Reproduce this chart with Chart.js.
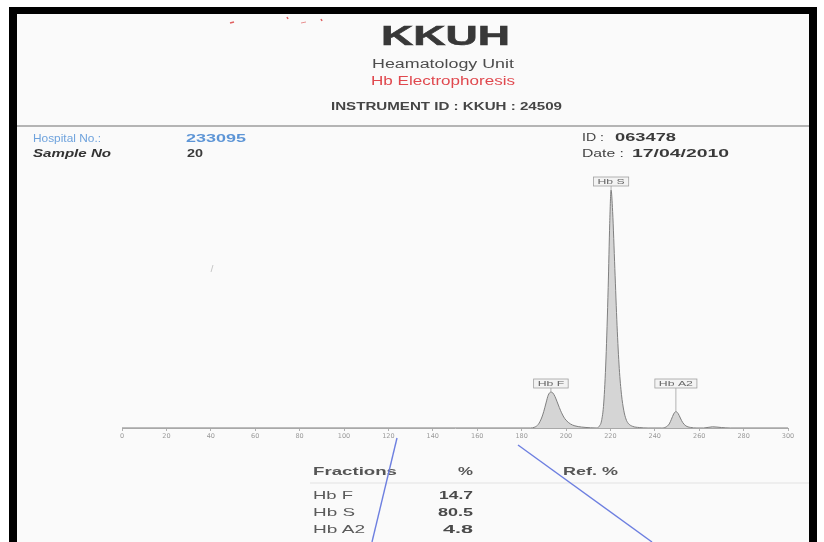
<!DOCTYPE html>
<html>
<head>
<meta charset="utf-8">
<script src="https://cdn.jsdelivr.net/npm/chart.js@4/dist/chart.umd.min.js"></script>
<style>
  html, body { margin: 0; padding: 0; background: #fff; }
  #page { position: relative; width: 824px; height: 542px; overflow: hidden; background: #fff; }
  #paper { position: absolute; left: 17px; top: 14px; width: 792px; height: 528px; background: #fafafa; }
  #chart { position: absolute; left: 0; top: 0; }
  #marks { position: absolute; left: 0; top: 0; z-index: 3; }
  .t { position: absolute; white-space: nowrap; font-family: "Liberation Sans", Arial, sans-serif;
       color: #4a4a4a; transform-origin: 0 50%; z-index: 2; }
  .b { font-weight: bold; }
</style>
</head>
<body>
<div id="page">
  <div id="paper"></div>
  <canvas id="chart" width="824" height="542"></canvas>

  <div class="t b" style="left:381px;top:22px;font-size:28px;line-height:28px;color:#383838;-webkit-text-stroke:0.6px #383838" data-w="129">KKUH</div>
  <div class="t" style="left:372px;top:58px;font-size:12px;line-height:12px;color:#4d4d4d" data-w="142">Heamatology Unit</div>
  <div class="t" style="left:371px;top:75px;font-size:12px;line-height:12px;color:#e0484e" data-w="144">Hb Electrophoresis</div>
  <div class="t b" style="left:331px;top:100px;font-size:11.5px;line-height:12px;color:#454545" data-w="231">INSTRUMENT ID : KKUH : 24509</div>

  <div class="t" style="left:33px;top:133px;font-size:10.5px;line-height:11px;color:#6fa3dd" data-w="68">Hospital No.:</div>
  <div class="t b" style="left:186px;top:133px;font-size:10.5px;line-height:11px;color:#5d95d6" data-w="60">233095</div>
  <div class="t b" style="left:33px;top:147px;font-size:11.5px;line-height:12px;color:#333;font-style:italic" data-w="78">Sample No</div>
  <div class="t b" style="left:187px;top:148px;font-size:10.5px;line-height:11px;color:#3a3a3a" data-w="16">20</div>
  <div class="t" style="left:582px;top:132px;font-size:11px;line-height:11px;color:#444" data-w="22">ID :</div>
  <div class="t b" style="left:615px;top:132px;font-size:11px;line-height:11px;color:#3a3a3a" data-w="61">063478</div>
  <div class="t" style="left:582px;top:148px;font-size:11px;line-height:11px;color:#444" data-w="42">Date :</div>
  <div class="t b" style="left:632px;top:148px;font-size:11px;line-height:11px;color:#3a3a3a" data-w="97">17/04/2010</div>

  <div class="t b" style="left:313px;top:465px;font-size:11px;line-height:12px;color:#555" data-w="84">Fractions</div>
  <div class="t b" style="left:458px;top:465px;font-size:11px;line-height:12px;color:#555" data-w="15">%</div>
  <div class="t b" style="left:563px;top:465px;font-size:11px;line-height:12px;color:#555" data-w="55">Ref. %</div>
  <div id="rows"></div>

  <svg id="marks" width="824" height="542">
    <rect x="9" y="7" width="808" height="7" fill="#000"/>
    <rect x="9" y="7" width="8" height="535" fill="#000"/>
    <rect x="809" y="7" width="8" height="535" fill="#000"/>
    <line x1="17" y1="126" x2="809" y2="126" stroke="#9c9c9c" stroke-width="1.5"/>
    <line x1="310" y1="483" x2="809" y2="483" stroke="#e2e2e2" stroke-width="1"/>
    <line x1="397" y1="438" x2="372" y2="542" stroke="#6d7fe0" stroke-width="1.4"/>
    <line x1="518" y1="445" x2="652" y2="542" stroke="#6d7fe0" stroke-width="1.4"/>
    <line x1="230" y1="23" x2="234" y2="22" stroke="#e06060" stroke-width="1.5"/>
    <line x1="287" y1="17" x2="288" y2="19" stroke="#e06060" stroke-width="1.5"/>
    <line x1="301" y1="23" x2="306" y2="22" stroke="#e89090" stroke-width="1"/>
    <line x1="321" y1="19" x2="322" y2="21" stroke="#e06060" stroke-width="1.5"/>
    <line x1="213" y1="265" x2="211" y2="272" stroke="#c8c8c8" stroke-width="1"/>
  </svg>
</div>

<script>
// densitometry trace (x = migration units, y = % of Hb S peak height)
const traceX = [0, 184, 186, 187.5, 189, 190, 191, 192, 193.2, 194, 195, 196, 197, 198, 199, 200, 202, 204, 207, 211,
  214, 215, 216, 217, 218, 219, 219.7, 220.3, 221, 222, 223, 224, 225, 226, 227, 228, 230, 233, 237,
  243, 245, 246.5, 247.5, 248.5, 249.5, 250.5, 251.5, 252.5, 254, 256, 259, 262, 266, 270, 274, 300];
const traceY = [0, 0, 0.4, 1.5, 4.2, 7, 10.5, 13.8, 15.1, 14.8, 13.3, 11, 8.6, 6.4, 4.6, 3.3, 1.7, 0.9, 0.4, 0.1,
  0, 0.8, 3, 10.5, 29, 59, 86, 100, 91, 67, 43, 25, 14, 7.5, 3.8, 2, 0.7, 0.2, 0,
  0, 0.4, 1.7, 3.7, 5.9, 6.9, 6.1, 4.2, 2.4, 0.9, 0.25, 0, 0, 0.5, 0.2, 0, 0];

const xTicks = [0, 20, 40, 60, 80, 100, 120, 140, 160, 180, 200, 220, 240, 260, 280, 300];

const peakNames = ['Hb F', 'Hb S', 'Hb A2'];
const peakPos = [193.2, 220.3, 249.5];
const peakHeight = [15.1, 100, 6.9];

const fractionNames = ['Hb F', 'Hb S', 'Hb A2'];
const fractionPct = ['14.7', '80.5', '4.8'];

// results table rows
const rowTop = [489, 506, 523];
const nameW = [40, 42, 52];
const valW = [34, 35, 30];
const rows = document.getElementById('rows');
fractionNames.forEach((n, i) => {
  rows.insertAdjacentHTML('beforeend',
    `<div class="t" style="left:313px;top:${rowTop[i]}px;font-size:11px;line-height:12px;color:#5a5a5a" data-w="${nameW[i]}">${n}</div>` +
    `<div class="t b" style="left:${473 - valW[i]}px;top:${rowTop[i]}px;font-size:11px;line-height:12px;color:#4a4a4a" data-w="${valW[i]}">${fractionPct[i]}</div>`);
});

// the scan is stretched sideways, so squeeze each text to its measured width
document.querySelectorAll('[data-w]').forEach(el => {
  const w = +el.dataset.w;
  el.style.transform = `scaleX(${w / el.getBoundingClientRect().width})`;
});

const peakLabels = {
  id: 'peakLabels',
  afterDatasetsDraw(chart) {
    const { ctx, scales: { x, y } } = chart;
    const base = y.getPixelForValue(0);
    ctx.save();
    ctx.font = '7px "Liberation Sans", Arial, sans-serif';
    peakNames.forEach((name, i) => {
      const px = x.getPixelForValue(peakPos[i]);
      const py = y.getPixelForValue(peakHeight[i]);
      const bottom = Math.min(py - 4, base - 40);
      const tw = ctx.measureText(name).width * 1.75;
      const bw = tw + 8, bh = 9;
      ctx.fillStyle = '#f3f3f3';
      ctx.strokeStyle = '#a0a0a0';
      ctx.lineWidth = 0.8;
      ctx.fillRect(px - bw / 2, bottom - bh, bw, bh);
      ctx.strokeRect(px - bw / 2, bottom - bh, bw, bh);
      if (py - bottom > 1) {
        ctx.beginPath();
        ctx.moveTo(px, bottom);
        ctx.lineTo(px, py);
        ctx.stroke();
      }
      ctx.save();
      ctx.translate(px - tw / 2, bottom - bh / 2);
      ctx.scale(1.75, 1);
      ctx.fillStyle = '#666';
      ctx.textBaseline = 'middle';
      ctx.fillText(name, 0, 0.5);
      ctx.restore();
    });
    ctx.restore();
  }
};

new Chart(document.getElementById('chart'), {
  type: 'line',
  data: {
    datasets: [{
      data: traceX.map((v, i) => ({ x: v, y: traceY[i] })),
      borderColor: '#7f7f7f',
      borderWidth: 1,
      backgroundColor: '#d5d5d5',
      fill: 'origin',
      pointRadius: 0,
      cubicInterpolationMode: 'monotone'
    }]
  },
  options: {
    responsive: false,
    animation: false,
    layout: { padding: { left: 122, right: 36, top: 190, bottom: 100 } },
    plugins: { legend: { display: false }, tooltip: { enabled: false } },
    scales: {
      x: {
        type: 'linear', min: 0, max: 300,
        afterBuildTicks: (s) => { s.ticks = xTicks.map(v => ({ value: v })); },
        afterFit: (s) => { s.height = 14; },
        border: { color: '#a8a8a8', width: 1 },
        grid: { drawOnChartArea: false, color: '#b0b0b0', tickLength: 3 },
        ticks: { color: '#999', padding: 1, maxRotation: 0, font: { family: 'DejaVu Sans', size: 6.5 } }
      },
      y: { display: false, min: 0, max: 100 }
    }
  },
  plugins: [peakLabels]
});
</script>
</body>
</html>
